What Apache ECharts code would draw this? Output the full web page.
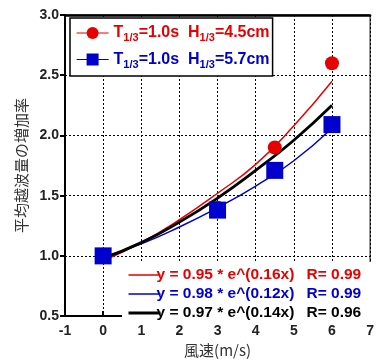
<!DOCTYPE html>
<html>
<head>
<meta charset="utf-8">
<script src="https://cdn.jsdelivr.net/npm/echarts@6/dist/echarts.min.js"></script>
<style>
  html, body { margin: 0; padding: 0; background: #fff; }
  #main { width: 377px; height: 363px; }
</style>
</head>
<body>
<div id="main"></div>
<script>
// measured points
var windSpeed = [0, 3, 4.5, 6];
var rateH45 = [1.0, 1.40, 1.90, 2.60];
var rateH57 = [1.0, 1.38, 1.71, 2.09];

// fitted curves
var fitX = [0, 1, 2, 3, 4, 5, 6];
var fitRed = [0.96, 1.11, 1.30, 1.52, 1.76, 2.08, 2.45];
var fitBlue = [0.99, 1.10, 1.24, 1.40, 1.58, 1.79, 2.06];
var fitBlack = [0.98, 1.11, 1.28, 1.48, 1.71, 1.96, 2.25];

var fitEq = ['y = 0.95 * e^(0.16x)', 'y = 0.98 * e^(0.12x)', 'y = 0.97 * e^(0.14x)'];
var fitR = ['R= 0.99', 'R= 0.99', 'R= 0.96'];

var xTicks = [-1, 0, 1, 2, 3, 4, 5, 6, 7];
var yTicks = [0.5, 1.0, 1.5, 2.0, 2.5, 3.0];

function pairs(xs, ys) {
    return xs.map(function (x, i) { return [x, ys[i]]; });
}

var chart = echarts.init(document.getElementById('main'));

var font = 'Liberation Sans, Arial, sans-serif';
var gridLine = { show: true, lineStyle: { color: '#000', type: [2, 2], width: 1 } };

function richLegend(color) {
    return {
        t: { fontSize: 16, fontWeight: 'bold', color: color, fontFamily: font },
        s: { fontSize: 11, fontWeight: 'bold', color: color, fontFamily: font, padding: [10, 0, 0, 0] }
    };
}

function richFit(color) {
    return {
        e: { fontSize: 15.5, fontWeight: 'bold', color: color, fontFamily: font, width: 150 },
        r: { fontSize: 15.5, fontWeight: 'bold', color: color, fontFamily: font }
    };
}

chart.setOption({
    animation: false,
    grid: { left: 65, right: 1, top: 15, bottom: 38, show: true, borderColor: '#000', borderWidth: 1 },
    xAxis: [{
        type: 'value',
        min: xTicks[0], max: xTicks[xTicks.length - 1], interval: 1,
        name: '風速(m/s)',
        nameLocation: 'middle',
        nameGap: 23,
        nameTextStyle: { fontSize: 15, color: '#333', fontFamily: 'Noto Sans CJK JP' },
        axisLine: { onZero: false, lineStyle: { color: '#000', width: 2 } },
        axisTick: { inside: true, length: 5, lineStyle: { width: 2, color: '#000' } },
        axisLabel: { fontSize: 14, fontWeight: 'bold', color: '#222', fontFamily: font, margin: 8 },
        splitLine: gridLine
    }, {
        type: 'value', position: 'top',
        min: xTicks[0], max: xTicks[xTicks.length - 1], interval: 1,
        axisLine: { onZero: false, lineStyle: { color: '#000', width: 2.5 } },
        axisTick: { show: false }, axisLabel: { show: false }, splitLine: { show: false }
    }],
    yAxis: {
        type: 'value',
        min: yTicks[0], max: yTicks[yTicks.length - 1], interval: 0.5,
        name: '平均越波量の増加率',
        nameLocation: 'middle',
        nameGap: 29,
        nameTextStyle: { fontSize: 15, color: '#333', fontFamily: 'Noto Sans CJK JP' },
        axisLine: { onZero: false, lineStyle: { color: '#000', width: 2 } },
        axisTick: { length: 5, lineStyle: { width: 2, color: '#000' } },
        axisLabel: {
            fontSize: 14, fontWeight: 'bold', color: '#222', fontFamily: font, margin: 6,
            formatter: function (v) { return v.toFixed(1); }
        },
        splitLine: gridLine
    },
    legend: [{
        left: 70, top: 18,
        orient: 'vertical',
        backgroundColor: '#fff',
        borderColor: '#000',
        borderWidth: 1.5,
        borderRadius: 0,
        padding: [7, 3, 6, 6],
        itemGap: 8,
        itemWidth: 32,
        itemHeight: 15,
        data: [
            { name: 'h45', lineStyle: { opacity: 1, width: 1.2 },
              textStyle: { rich: richLegend('#e60000') } },
            { name: 'h57', lineStyle: { opacity: 1, width: 1.2 },
              textStyle: { rich: richLegend('#0000cc') } }
        ],
        formatter: function (n) {
            var h = n === 'h45' ? '4.5' : '5.7';
            return '{t|T}{s|1/3}{t|=1.0s  H}{s|1/3}{t|=' + h + 'cm}';
        }
    }, {
        left: 122, top: 262,
        orient: 'vertical',
        backgroundColor: '#fff',
        padding: [5, 12, 0, 5],
        itemGap: 3,
        itemWidth: 32,
        itemHeight: 15,
        data: [
            { name: 'fitRed', itemStyle: { opacity: 0 }, lineStyle: { width: 1.5 },
              textStyle: { rich: richFit('#e60000') } },
            { name: 'fitBlue', itemStyle: { opacity: 0 }, lineStyle: { width: 1.5 },
              textStyle: { rich: richFit('#0000cc') } },
            { name: 'fitBlack', itemStyle: { opacity: 0 }, lineStyle: { width: 3 },
              textStyle: { rich: richFit('#000') } }
        ],
        textStyle: { padding: [0, 0, 0, -9] },
        formatter: function (n) {
            var i = ['fitRed', 'fitBlue', 'fitBlack'].indexOf(n);
            return '{e|' + fitEq[i] + '}{r|' + fitR[i] + '}';
        }
    }],
    series: [
        { name: 'fitRed', type: 'line', smooth: true, symbol: 'none',
          data: pairs(fitX, fitRed), lineStyle: { color: '#e60000', width: 1.5 },
          itemStyle: { color: '#e60000' } },
        { name: 'fitBlue', type: 'line', smooth: true, symbol: 'none',
          data: pairs(fitX, fitBlue), lineStyle: { color: '#0000cc', width: 1.5 },
          itemStyle: { color: '#0000cc' } },
        { name: 'fitBlack', type: 'line', smooth: true, symbol: 'none',
          data: pairs(fitX, fitBlack), lineStyle: { color: '#000', width: 2.8 },
          itemStyle: { color: '#000' } },
        { name: 'h45', type: 'line', symbol: 'circle', symbolSize: 14,
          data: pairs(windSpeed, rateH45),
          itemStyle: { color: '#e60000' }, lineStyle: { color: '#e60000', opacity: 0 } },
        { name: 'h57', type: 'line', symbol: 'rect', symbolSize: 17,
          data: pairs(windSpeed, rateH57),
          itemStyle: { color: '#0000cc' }, lineStyle: { color: '#0000cc', opacity: 0 } }
    ]
});
</script>
</body>
</html>
